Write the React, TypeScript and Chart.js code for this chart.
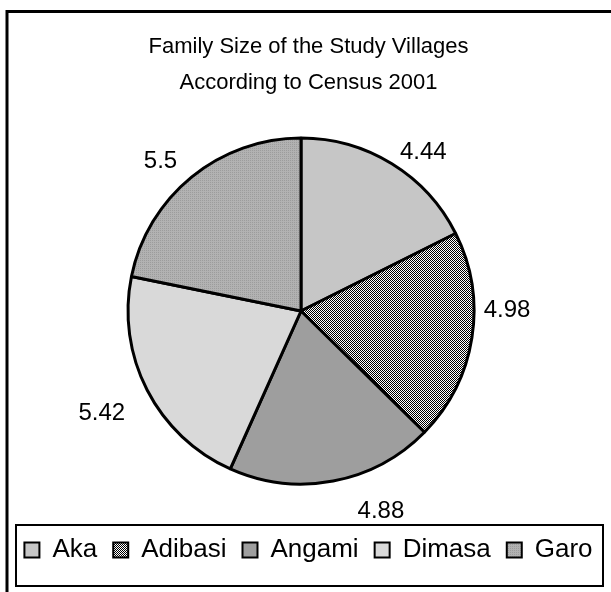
import React, { useEffect, useRef } from 'react';
import { Chart, registerables } from 'chart.js';

Chart.register(...registerables);

// ---- data ----
const TITLE_LINES = ['Family Size of the Study Villages', 'According to Census 2001'];
const VILLAGES = ['Aka', 'Adibasi', 'Angami', 'Dimasa', 'Garo'];
const FAMILY_SIZE = [4.44, 4.98, 4.88, 5.42, 5.5];

// ---- style ----
const FONT = '"Liberation Sans", Arial, Helvetica, sans-serif';
// label placement nudges (angle shift in degrees, gap beyond the rim in px)
const LABEL_ANGLE_SHIFT = [6, -9, -11, 0, -4];
const LABEL_GAP = [27, 33, 43, 51, 32];

function makePattern(size: number, draw: (c: CanvasRenderingContext2D) => void): CanvasPattern | string {
  const cv = document.createElement('canvas');
  cv.width = size;
  cv.height = size;
  const c = cv.getContext('2d');
  if (!c) return '#999';
  draw(c);
  const p = c.createPattern(cv, 'repeat');
  return p || '#999';
}

function buildFills() {
  const aka = '#c6c6c6';
  const adibasi = makePattern(2, (c) => {
    c.fillStyle = '#ffffff';
    c.fillRect(0, 0, 2, 2);
    c.fillStyle = '#000000';
    c.fillRect(0, 0, 1, 1);
    c.fillRect(1, 1, 1, 1);
  });
  const angami = '#9e9e9e';
  const dimasa = '#d9d9d9';
  const garo = makePattern(2, (c) => {
    c.fillStyle = '#b2b2b2';
    c.fillRect(0, 0, 2, 2);
    c.fillStyle = '#9c9c9c';
    c.fillRect(0, 0, 1, 1);
  });
  return [aka, adibasi, angami, dimasa, garo];
}

const framePlugin = {
  id: 'frame',
  beforeDraw(chart: any) {
    const ctx = chart.ctx;
    ctx.save();
    ctx.fillStyle = '#ffffff';
    ctx.fillRect(0, 0, chart.width, chart.height);
    ctx.strokeStyle = '#000';
    ctx.lineWidth = 3;
    ctx.beginPath();
    ctx.moveTo(7, chart.height + 5);
    ctx.lineTo(7, 11.5);
    ctx.lineTo(chart.width + 5, 11.5);
    ctx.stroke();
    ctx.restore();
  },
  afterDraw(chart: any) {
    const lg = chart.legend;
    if (!lg) return;
    const ctx = chart.ctx;
    ctx.save();
    ctx.strokeStyle = '#000';
    ctx.lineWidth = 2;
    const top = lg.top + 4;
    const bottom = lg.bottom + 13;
    ctx.strokeRect(16, top, 587, bottom - top);
    ctx.restore();
  },
};

const valueLabelPlugin = {
  id: 'valueLabels',
  afterDatasetsDraw(chart: any) {
    const ctx = chart.ctx;
    const meta = chart.getDatasetMeta(0);
    ctx.save();
    ctx.font = `24px ${FONT}`;
    ctx.fillStyle = '#000';
    ctx.textAlign = 'center';
    ctx.textBaseline = 'middle';
    meta.data.forEach((arc: any, i: number) => {
      const { x, y, startAngle, endAngle, outerRadius } = arc.getProps(
        ['x', 'y', 'startAngle', 'endAngle', 'outerRadius'],
        true
      );
      const a = (startAngle + endAngle) / 2 + (LABEL_ANGLE_SHIFT[i] * Math.PI) / 180;
      const r = outerRadius + LABEL_GAP[i];
      ctx.fillText(String(FAMILY_SIZE[i]), x + r * Math.cos(a), y + r * Math.sin(a));
    });
    ctx.restore();
  },
};

export default function App() {
  const canvasRef = useRef<HTMLCanvasElement | null>(null);

  useEffect(() => {
    const canvas = canvasRef.current;
    if (!canvas) return;
    const fills = buildFills();
    const chart = new Chart(canvas, {
      type: 'pie',
      data: {
        labels: VILLAGES,
        datasets: [
          {
            data: FAMILY_SIZE,
            backgroundColor: fills as any,
            borderColor: '#000000',
            borderWidth: 3,
            hoverOffset: 0,
          },
        ],
      },
      options: {
        responsive: false,
        animation: false,
        devicePixelRatio: 1,
        radius: 173,
        layout: { padding: { left: 6, right: 0, top: 0, bottom: 19 } },
        plugins: {
          title: {
            display: true,
            text: TITLE_LINES,
            color: '#000',
            font: { family: FONT, size: 22, weight: 'normal', lineHeight: '36px' },
            padding: { top: 29, bottom: 0 },
          },
          subtitle: {
            display: true,
            position: 'right',
            text: '',
            font: { size: 1, lineHeight: 1 },
            padding: { top: 14, bottom: 0 },
          },
          legend: {
            display: true,
            position: 'bottom',
            align: 'center',
            labels: {
              color: '#000',
              font: { family: FONT, size: 26 },
              boxWidth: 15,
              boxHeight: 15,
              padding: 16,
              generateLabels: (ch: any) => {
                const base = (Chart as any).overrides.pie.plugins.legend.labels.generateLabels(ch);
                return base.map((it: any) => ({ ...it, lineWidth: 2, strokeStyle: '#000' }));
              },
            },
          },
          tooltip: { enabled: false },
        },
      } as any,
      plugins: [framePlugin, valueLabelPlugin],
    });
    return () => chart.destroy();
  }, []);

  return (
    <div style={{ position: 'absolute', left: 0, top: 0, width: 611, height: 592, background: '#fff' }}>
      <canvas ref={canvasRef} width={611} height={592} style={{ display: 'block', width: 611, height: 592 }} />
    </div>
  );
}
